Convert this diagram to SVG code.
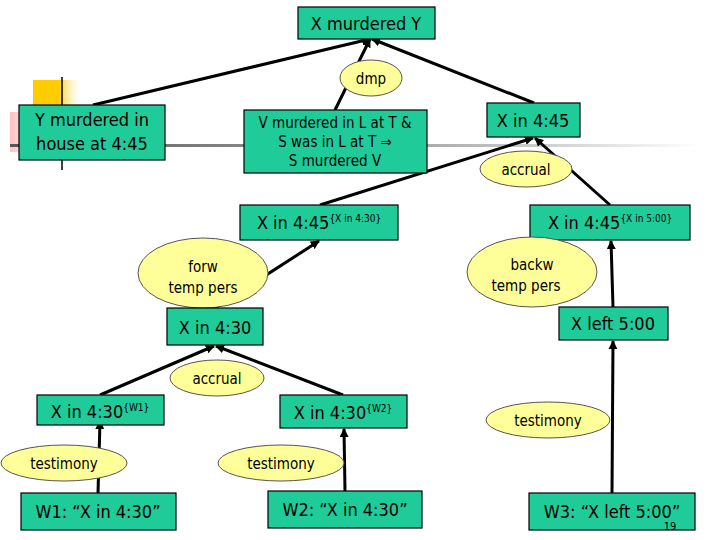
<svg xmlns="http://www.w3.org/2000/svg" width="720" height="540" viewBox="0 0 720 540">
<defs>
<style>
.b{fill:#1fcc99;stroke:#000;stroke-width:1.2}
.e{fill:#ffff99;stroke:#555;stroke-width:1}
text{font-family:"DejaVu Sans Condensed","Liberation Sans",sans-serif;fill:#000;text-anchor:middle}
.t{font-size:18px}
.s{font-size:15px}
.sup{font-size:10px}
.c line{stroke:#000;stroke-width:3;marker-end:url(#a)}
</style>
<marker id="a" viewBox="0 0 10 10" refX="9" refY="5" markerWidth="3" markerHeight="3" orient="auto"><path d="M0,0L10,5L0,10z" fill="#000"/></marker>
<linearGradient id="gy" x1="0" x2="1"><stop offset="0.5" stop-color="#ffcc00"/><stop offset="1" stop-color="#fff" stop-opacity="0"/></linearGradient>
<linearGradient id="gp" x1="0" x2="1"><stop offset="0" stop-color="#ff9999" stop-opacity="0.6"/><stop offset="1" stop-color="#fff" stop-opacity="0"/></linearGradient>
<linearGradient id="gl" x1="0" x2="1"><stop offset="0" stop-color="#555"/><stop offset="0.6" stop-color="#aaa"/><stop offset="1" stop-color="#fff"/></linearGradient>
</defs>
<rect width="720" height="540" fill="#fff"/>
<g id="decor">
<rect x="33" y="80" width="50" height="40" fill="url(#gy)"/>
<rect x="10" y="112" width="70" height="40" fill="url(#gp)"/>
<rect x="10" y="144" width="690" height="3" fill="url(#gl)"/>
<line x1="62" y1="77" x2="62" y2="170" stroke="#000" stroke-width="1.5"/>
</g>
<g class="c" id="connectors">
<line x1="93" y1="105" x2="370" y2="39"/>
<line x1="335" y1="110" x2="370" y2="39"/>
<line x1="534" y1="103" x2="372" y2="39"/>
<line x1="320" y1="205" x2="533" y2="138"/>
<line x1="610" y1="205" x2="535" y2="138"/>
<line x1="215" y1="308" x2="319" y2="241"/>
<line x1="613" y1="307" x2="611" y2="241"/>
<line x1="100" y1="395" x2="214" y2="346"/>
<line x1="343" y1="395" x2="216" y2="346"/>
<line x1="98" y1="493" x2="100" y2="421"/>
<line x1="345" y1="491" x2="344" y2="429"/>
<line x1="612" y1="493" x2="613" y2="341"/>
</g>
<g id="n1"><rect class="b" x="298" y="7" width="137" height="32"/><text class="t" x="366" y="30">X murdered Y</text></g>
<g id="e1"><ellipse class="e" cx="371" cy="78" rx="31" ry="18"/><text class="s" x="371" y="84">dmp</text></g>
<g id="n2"><rect class="b" x="19" y="105" width="146" height="55"/><text class="t" x="92" y="126">Y murdered in</text><text class="t" x="92" y="150">house at 4:45</text></g>
<g id="n3"><rect class="b" x="244" y="110" width="183" height="63"/><text class="s" x="335" y="128">V murdered in L at T &amp;</text><text class="s" x="335" y="147">S was in L at T ⇒</text><text class="s" x="335" y="166">S murdered V</text></g>
<g id="n4"><rect class="b" x="487" y="103" width="93" height="34"/><text class="t" x="533" y="127">X in 4:45</text></g>
<g id="e2"><ellipse class="e" cx="526" cy="169" rx="46" ry="18"/><text class="s" x="526" y="175">accrual</text></g>
<g id="n5"><rect class="b" x="240" y="205" width="158" height="35"/><text class="t" x="319" y="229">X in 4:45<tspan class="sup" dy="-7">{X in 4:30}</tspan></text></g>
<g id="n6"><rect class="b" x="530" y="205" width="160" height="35"/><text class="t" x="610" y="229">X in 4:45<tspan class="sup" dy="-7">{X in 5:00}</tspan></text></g>
<g id="e3"><ellipse class="e" cx="203" cy="273" rx="65" ry="35"/><text class="s" x="203" y="272">forw</text><text class="s" x="203" y="293">temp pers</text></g>
<g id="e4"><ellipse class="e" cx="532" cy="272" rx="65" ry="35"/><text class="s" x="532" y="270">backw</text><text class="s" x="526" y="291">temp pers</text></g>
<g id="n7"><rect class="b" x="167" y="308" width="96" height="37"/><text class="t" x="215" y="334">X in 4:30</text></g>
<g id="n8"><rect class="b" x="559" y="307" width="109" height="33"/><text class="t" x="613" y="330">X left 5:00</text></g>
<g id="e5"><ellipse class="e" cx="217" cy="378" rx="47" ry="18"/><text class="s" x="217" y="384">accrual</text></g>
<g id="n9"><rect class="b" x="37" y="395" width="127" height="30"/><text class="t" x="100" y="418">X in 4:30<tspan class="sup" dy="-7">{W1}</tspan></text></g>
<g id="n10"><rect class="b" x="280" y="395" width="127" height="33"/><text class="t" x="343" y="419">X in 4:30<tspan class="sup" dy="-7">{W2}</tspan></text></g>
<g id="e6"><ellipse class="e" cx="548" cy="420" rx="62" ry="18"/><text class="s" x="548" y="426">testimony</text></g>
<g id="e7"><ellipse class="e" cx="64" cy="463" rx="63" ry="18"/><text class="s" x="64" y="469">testimony</text></g>
<g id="e8"><ellipse class="e" cx="281" cy="463" rx="63" ry="18"/><text class="s" x="281" y="469">testimony</text></g>
<g id="n11"><rect class="b" x="21" y="493" width="155" height="37"/><text class="t" x="98" y="518">W1: “X in 4:30”</text></g>
<g id="n12"><rect class="b" x="268" y="491" width="154" height="37"/><text class="t" x="345" y="516">W2: “X in 4:30”</text></g>
<g id="n13"><rect class="b" x="529" y="493" width="166" height="37"/><text class="t" x="612" y="518">W3: “X left 5:00”</text></g>
<text x="670" y="530" style="font-size:11px">19</text>
</svg>
